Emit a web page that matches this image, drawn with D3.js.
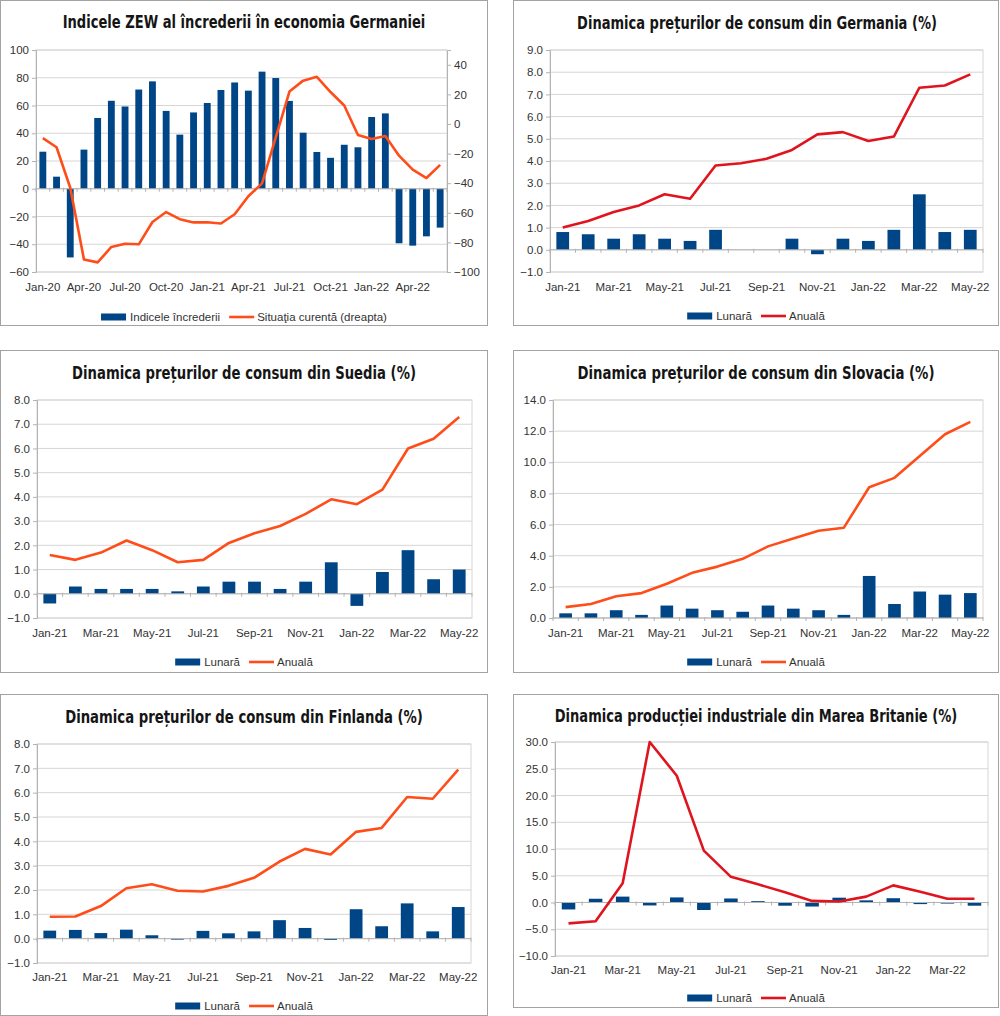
<!DOCTYPE html>
<html>
<head>
<meta charset="utf-8">
<script src="https://cdn.jsdelivr.net/npm/d3@7"></script>
<style>
  body { margin: 0; background: #fff; }
  svg { display: block; }
  .lbl { font-family: "Liberation Sans", Arial, sans-serif; font-size: 11.5px; fill: #333; }
  .title { font-family: "Liberation Sans Narrow", "DejaVu Sans", sans-serif; font-weight: bold; font-size: 18.5px; fill: #151515; }
</style>
</head>
<body>
<svg id="chart" width="1000" height="1016"></svg>
<script>
// --- date ---
const luniZEW = ['Jan-20','Feb-20','Mar-20','Apr-20','May-20','Jun-20','Jul-20','Aug-20','Sep-20','Oct-20','Nov-20','Dec-20',
  'Jan-21','Feb-21','Mar-21','Apr-21','May-21','Jun-21','Jul-21','Aug-21','Sep-21','Oct-21','Nov-21','Dec-21',
  'Jan-22','Feb-22','Mar-22','Apr-22','May-22','Jun-22']
const zewIncredere = [26.7, 8.7, -49.5, 28.2, 51.0, 63.4, 59.3, 71.5, 77.4, 56.1, 39.0, 55.0,
  61.8, 71.2, 76.6, 70.7, 84.4, 79.8, 63.3, 40.4, 26.5, 22.3, 31.7, 29.9,
  51.7, 54.3, -39.3, -41.0, -34.3, -28.0]
const zewSituatie = [-9.5, -15.7, -43.1, -91.5, -93.5, -83.1, -80.9, -81.3, -66.2, -59.5, -64.3, -66.5,
  -66.4, -67.2, -61.0, -48.8, -40.1, -9.1, 21.9, 29.3, 31.9, 21.6, 12.5, -7.4,
  -10.2, -8.1, -21.4, -30.8, -36.5, -27.6]
const zewTickStanga = [-60, -40, -20, 0, 20, 40, 60, 80, 100]
const zewTickDreapta = [-100, -80, -60, -40, -20, 0, 20, 40]

const luni21 = ['Jan-21','Feb-21','Mar-21','Apr-21','May-21','Jun-21','Jul-21','Aug-21','Sep-21','Oct-21','Nov-21','Dec-21',
  'Jan-22','Feb-22','Mar-22','Apr-22','May-22']

const deLunara = [0.8, 0.7, 0.5, 0.7, 0.5, 0.4, 0.9, 0.0, 0.0, 0.5, -0.2, 0.5, 0.4, 0.9, 2.5, 0.8, 0.9]
const deAnuala = [1.0, 1.3, 1.7, 2.0, 2.5, 2.3, 3.8, 3.9, 4.1, 4.5, 5.2, 5.3, 4.9, 5.1, 7.3, 7.4, 7.9]
const deTicks = [-1, 0, 1, 2, 3, 4, 5, 6, 7, 8, 9]

const seLunara = [-0.4, 0.3, 0.2, 0.2, 0.2, 0.1, 0.3, 0.5, 0.5, 0.2, 0.5, 1.3, -0.5, 0.9, 1.8, 0.6, 1.0]
const seAnuala = [1.6, 1.4, 1.7, 2.2, 1.8, 1.3, 1.4, 2.1, 2.5, 2.8, 3.3, 3.9, 3.7, 4.3, 6.0, 6.4, 7.3]
const seTicks = [-1, 0, 1, 2, 3, 4, 5, 6, 7, 8]

const skLunara = [0.3, 0.3, 0.5, 0.2, 0.8, 0.6, 0.5, 0.4, 0.8, 0.6, 0.5, 0.2, 2.7, 0.9, 1.7, 1.5, 1.6]
const skAnuala = [0.7, 0.9, 1.4, 1.6, 2.2, 2.9, 3.3, 3.8, 4.6, 5.1, 5.6, 5.8, 8.4, 9.0, 10.4, 11.8, 12.6]
const skTicks = [0, 2, 4, 6, 8, 10, 12, 14]

const fiLunara = [0.33, 0.36, 0.23, 0.37, 0.14, -0.04, 0.32, 0.22, 0.3, 0.76, 0.44, -0.05, 1.21, 0.51, 1.45, 0.3, 1.3]
const fiAnuala = [0.9, 0.91, 1.34, 2.07, 2.24, 1.97, 1.94, 2.17, 2.5, 3.17, 3.69, 3.46, 4.39, 4.55, 5.82, 5.75, 6.95]
const fiTicks = [-1, 0, 1, 2, 3, 4, 5, 6, 7, 8]

const luniUK = luni21.slice(0, 16)
const ukLunara = [-1.3, 0.7, 1.1, -0.55, 0.95, -1.4, 0.75, 0.25, -0.6, -0.75, 0.9, 0.4, 0.8, -0.3, -0.2, -0.6]
const ukAnuala = [-3.9, -3.5, 3.6, 30.0, 23.7, 9.7, 4.8, 3.4, 1.9, 0.3, 0.2, 1.1, 3.2, 2.0, 0.7, 0.7]
const ukTicks = [-10, -5, 0, 5, 10, 15, 20, 25, 30]

const ALBASTRU = '#004586'
const PORTOCALIU = '#ff4d1a'
const ROSU = '#e0141e'

const svg = d3.select('#chart')

function panou(o) {
  const g = svg.append('g')
  const [bx0, by0, bx1, by1] = o.box
  const { l, t, r, b } = o.plot
  const cx = (bx0 + bx1) / 2

  g.append('rect')
    .attr('x', bx0 + 0.5).attr('y', by0 + 0.5)
    .attr('width', bx1 - bx0 - 1).attr('height', by1 - by0 - 1)
    .attr('fill', '#fff').attr('stroke', '#a3a3a3')

  // titlul - fontul ingust lipseste, asa ca il strangem pe orizontala la latimea din original
  const tx = cx + (o.titleDx || 0)
  const title = g.append('text')
    .attr('class', 'title')
    .attr('x', 0).attr('y', 0)
    .attr('text-anchor', 'middle')
    .attr('dominant-baseline', 'central')
    .text(o.title)
  const natW = title.node().getComputedTextLength()
  title.attr('transform', `translate(${tx},${o.titleY}) scale(${o.titleW / natW},1)`)

  const x = d3.scaleBand().domain(o.cats).range([l, r])
  const y = d3.scaleLinear().domain(o.dom).range([b, t])

  // grila
  g.selectAll('.grid')
    .data(o.ticks)
    .enter()
    .append('line')
    .attr('x1', l).attr('x2', r)
    .attr('y1', d => y(d)).attr('y2', d => y(d))
    .attr('stroke', '#d6d6d6')

  g.append('rect')
    .attr('x', l).attr('y', t).attr('width', r - l).attr('height', b - t)
    .attr('fill', 'none').attr('stroke', '#d6d6d6')

  // axa stanga
  const ay = g.append('g')
    .attr('transform', `translate(${l},0)`)
    .call(d3.axisLeft(y).tickValues(o.ticks).tickFormat(o.fmt).tickSize(4).tickPadding(3))
  ay.selectAll('path, line').attr('stroke', '#b3b3b3')
  ay.selectAll('text').attr('class', 'lbl').attr('font-size', null).attr('font-family', null).attr('fill', null)

  // axa dreapta (optional)
  let y2 = null
  if (o.dom2) {
    y2 = d3.scaleLinear().domain(o.dom2).range([b, t])
    const ar = g.append('g')
      .attr('transform', `translate(${r},0)`)
      .call(d3.axisRight(y2).tickValues(o.ticks2).tickSize(4).tickPadding(3))
    ar.selectAll('path, line').attr('stroke', '#b3b3b3')
    ar.selectAll('text').attr('class', 'lbl').attr('font-size', null).attr('font-family', null).attr('fill', null)
  }

  // bare
  const bw = x.bandwidth()
  g.selectAll('.bar')
    .data(o.bars)
    .enter()
    .append('rect')
    .attr('x', (d, i) => x(o.cats[i]) + bw * 0.25)
    .attr('width', bw * 0.5)
    .attr('y', d => y(Math.max(0, d)))
    .attr('height', d => Math.abs(y(d) - y(0)))
    .attr('fill', ALBASTRU)

  // axa categoriilor, la zero
  const y0 = y(0)
  g.append('line')
    .attr('x1', l).attr('x2', r).attr('y1', y0).attr('y2', y0)
    .attr('stroke', '#b3b3b3')
  g.selectAll('.xtick')
    .data(o.cats.map(c => x(c)).concat([r]))
    .enter()
    .append('line')
    .attr('x1', d => d).attr('x2', d => d)
    .attr('y1', y0 - 1).attr('y2', y0 + 3)
    .attr('stroke', '#b3b3b3')

  g.selectAll('.xlbl')
    .data(o.cats.filter((c, i) => i % o.step === 0))
    .enter()
    .append('text')
    .attr('class', 'lbl')
    .attr('x', d => x(d) + bw / 2)
    .attr('y', o.xLabelY)
    .attr('text-anchor', 'middle')
    .attr('dominant-baseline', 'central')
    .text(d => d)

  // linia
  const ys = y2 || y
  const lineGen = d3.line()
    .x((d, i) => x(o.cats[i]) + bw / 2)
    .y(d => ys(d))
  g.append('path')
    .attr('d', lineGen(o.line))
    .attr('fill', 'none')
    .attr('stroke', o.lineColor)
    .attr('stroke-width', 2.6)
    .attr('stroke-linejoin', 'round')

  // legenda
  const leg = g.append('g')
  let px = 0
  leg.append('rect').attr('x', px).attr('y', -3.5).attr('width', 25).attr('height', 7).attr('fill', ALBASTRU)
  px += 29
  const t1 = leg.append('text').attr('class', 'lbl').attr('x', px).attr('dominant-baseline', 'central').text(o.names[0])
  px += t1.node().getComputedTextLength() + 9
  leg.append('line').attr('x1', px).attr('x2', px + 25).attr('stroke', o.lineColor).attr('stroke-width', 2.6)
  px += 28
  const t2 = leg.append('text').attr('class', 'lbl').attr('x', px).attr('dominant-baseline', 'central').text(o.names[1])
  px += t2.node().getComputedTextLength()
  leg.attr('transform', `translate(${cx - px / 2},${o.legendY})`)
}

const fmt1 = d3.format('.1f')
const numeCPI = ['Lunară', 'Anuală']

panou({
  box: [0, 0, 488, 326], plot: { l: 36, t: 50, r: 447, b: 272 },
  title: 'Indicele ZEW al încrederii în economia Germaniei', titleY: 22, titleW: 363,
  cats: luniZEW, bars: zewIncredere, line: zewSituatie,
  dom: [-60, 100], ticks: zewTickStanga, fmt: d3.format('d'),
  dom2: [-100, 50], ticks2: zewTickDreapta,
  step: 3, xLabelY: 287, legendY: 317, lineColor: PORTOCALIU,
  names: ['Indicele încrederii', 'Situaţia curentă (dreapta)']
})

panou({
  box: [513, 0, 999, 326], plot: { l: 550, t: 50, r: 983, b: 272 },
  title: 'Dinamica prețurilor de consum din Germania (%)', titleY: 23, titleW: 360, titleDx: 1,
  cats: luni21, bars: deLunara, line: deAnuala,
  dom: [-1, 9], ticks: deTicks, fmt: fmt1,
  step: 2, xLabelY: 287, legendY: 316, lineColor: ROSU, names: numeCPI
})

panou({
  box: [0, 350, 488, 673], plot: { l: 37, t: 400, r: 472, b: 618 },
  title: 'Dinamica prețurilor de consum din Suedia (%)', titleY: 373, titleW: 344,
  cats: luni21, bars: seLunara, line: seAnuala,
  dom: [-1, 8], ticks: seTicks, fmt: fmt1,
  step: 2, xLabelY: 633, legendY: 662, lineColor: PORTOCALIU, names: numeCPI
})

panou({
  box: [513, 350, 999, 673], plot: { l: 553, t: 400, r: 983, b: 618 },
  title: 'Dinamica prețurilor de consum din Slovacia (%)', titleY: 373, titleW: 357,
  cats: luni21, bars: skLunara, line: skAnuala,
  dom: [0, 14], ticks: skTicks, fmt: fmt1,
  step: 2, xLabelY: 633, legendY: 662, lineColor: PORTOCALIU, names: numeCPI
})

panou({
  box: [0, 694, 488, 1016], plot: { l: 37, t: 744, r: 471, b: 963 },
  title: 'Dinamica prețurilor de consum din Finlanda (%)', titleY: 717, titleW: 358,
  cats: luni21, bars: fiLunara, line: fiAnuala,
  dom: [-1, 8], ticks: fiTicks, fmt: fmt1,
  step: 2, xLabelY: 977, legendY: 1006, lineColor: PORTOCALIU, names: numeCPI
})

panou({
  box: [513, 694, 999, 1008], plot: { l: 555, t: 742, r: 988, b: 956 },
  title: 'Dinamica producției industriale din Marea Britanie (%)', titleY: 716, titleW: 403,
  cats: luniUK, bars: ukLunara, line: ukAnuala,
  dom: [-10, 30], ticks: ukTicks, fmt: fmt1,
  step: 2, xLabelY: 970, legendY: 998, lineColor: ROSU, names: numeCPI
})
</script>
</body>
</html>
